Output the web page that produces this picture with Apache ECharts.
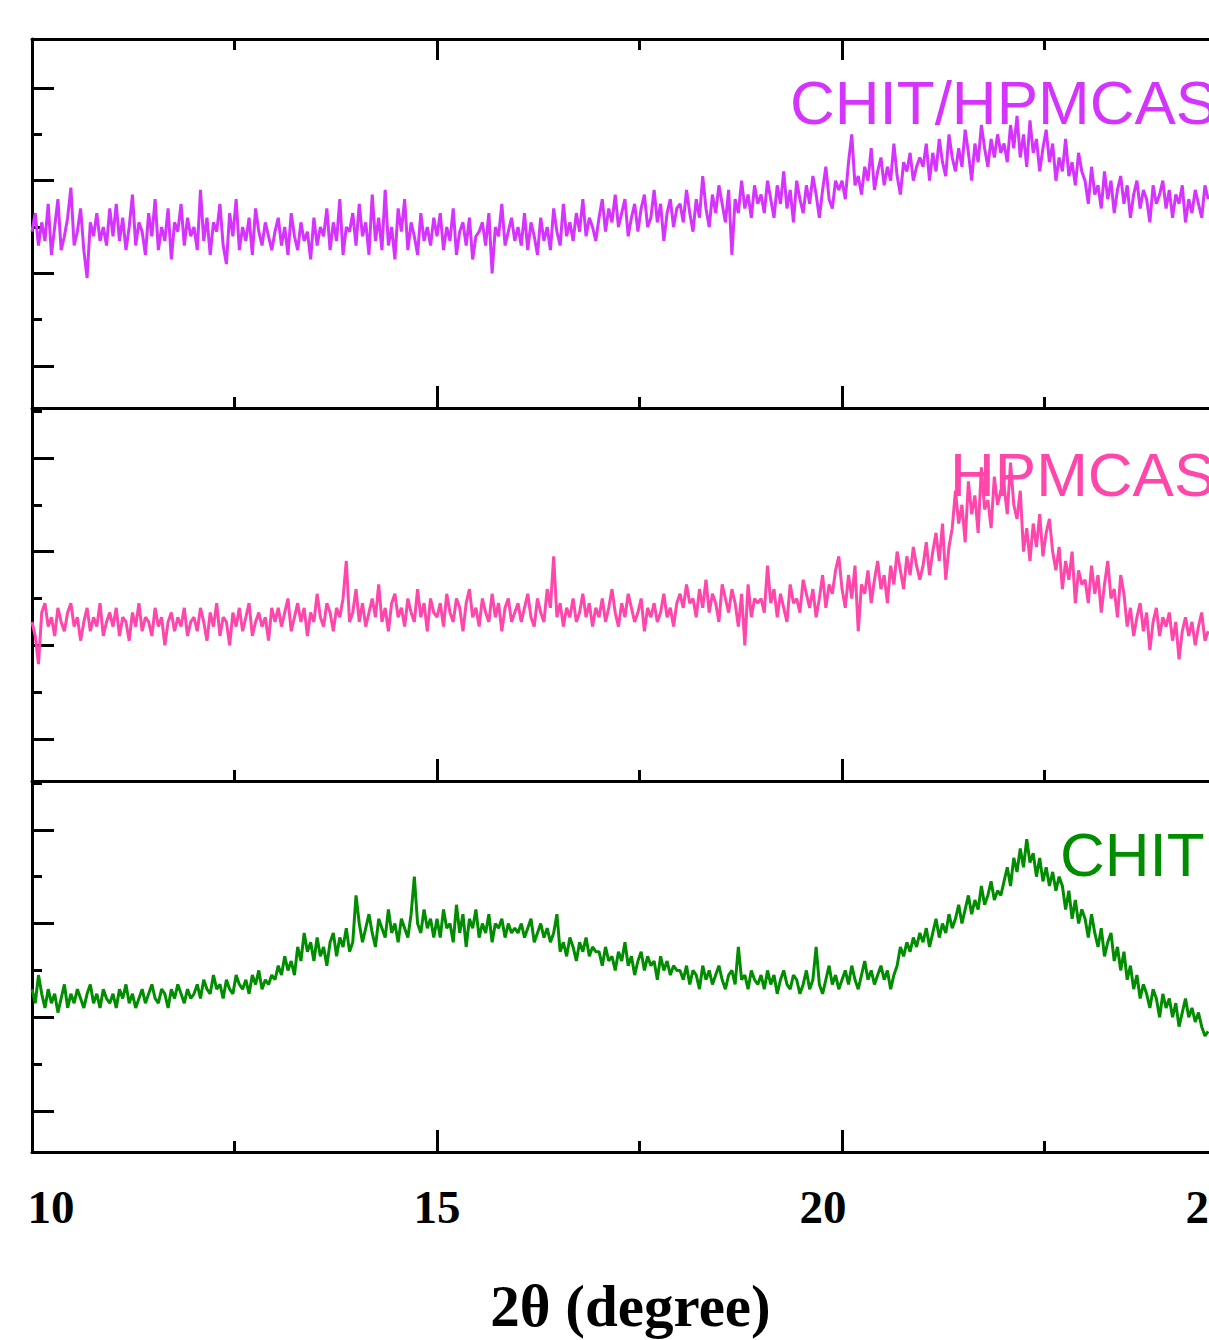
<!DOCTYPE html>
<html><head><meta charset="utf-8">
<script src="https://cdn.jsdelivr.net/npm/echarts@6/dist/echarts.min.js"></script>
<style>html,body{margin:0;padding:0;background:#fff}#c{width:1209px;height:1340px}</style>
</head><body><div id="c"></div><script>
// 2θ sampling of the diffractograms
const twoThetaStart = 10;
const twoThetaStep = 0.04;
const xTickLabels = [10, 15, 20, 25];
const xMajorTicks = [15, 20];
const xMinorTicks = [12.5, 17.5, 22.5];
const yMajorTicks = [1, 3, 5, 7];
const yMinorTicks = [2, 4, 6, 8];
const seriesNames = ['CHIT/HPMCAS', 'HPMCAS', 'CHIT'];
const axisTitle = '2θ (degree)';

// intensities (a.u.), one row per degree (25 points of 0.04°)
const chitHpmcas = [
3.9,4.3,3.6,4.1,3.7,4.5,3.4,4.0,4.6,3.5,3.8,4.2,4.85,3.6,3.9,4.4,3.5,2.9,4.1,3.8,4.3,3.7,4.0,3.6,4.4,
3.8,4.5,3.7,4.2,3.5,4.0,4.7,3.6,4.1,3.9,3.4,4.3,3.8,4.6,3.5,4.0,3.7,4.4,3.3,4.1,3.9,4.5,3.6,4.2,3.8,
4.0,3.5,4.8,3.7,4.2,3.4,4.1,3.9,4.5,3.6,3.2,4.3,3.8,4.6,3.5,4.0,3.7,4.2,3.4,4.4,3.9,3.6,4.1,3.8,3.5,
3.9,4.2,3.6,4.0,3.4,4.3,3.8,3.5,4.1,3.7,3.9,3.3,4.2,3.6,4.0,3.8,4.4,3.5,4.1,3.7,4.6,3.4,4.0,3.9,4.3,
3.6,4.5,3.8,4.1,3.4,4.7,3.7,4.2,3.5,4.8,3.6,4.0,3.3,4.4,3.9,4.6,3.5,4.1,3.8,3.4,4.3,3.7,4.0,3.6,4.2,
3.8,4.3,3.5,4.0,3.7,4.4,3.4,3.9,4.1,3.6,4.2,3.3,3.8,3.9,4.1,3.6,4.3,3.0,4.0,3.8,4.5,3.6,3.9,4.2,3.7,
4.0,3.6,4.3,3.5,4.1,3.8,3.4,4.2,3.7,4.0,3.5,4.4,3.9,3.6,4.5,3.8,4.1,3.7,4.3,3.9,4.6,3.8,4.2,4.0,3.7,
4.2,4.6,3.9,4.4,4.1,4.7,4.0,4.3,4.6,3.8,4.2,4.5,3.9,4.4,4.7,4.0,4.2,4.8,4.1,4.5,3.7,4.3,4.6,4.0,4.4,
4.5,4.1,4.8,4.3,3.9,4.6,4.2,5.1,4.4,4.0,4.7,4.3,4.9,4.5,4.1,4.8,3.4,4.6,4.3,5.0,4.4,4.7,4.2,4.9,4.5,
4.7,4.3,5.0,4.6,4.2,4.9,4.5,5.2,4.4,4.8,4.1,5.0,4.6,4.3,4.9,4.5,5.1,4.7,4.2,4.8,5.3,4.6,4.4,5.0,4.8,
5.0,4.6,5.4,6.0,4.9,5.1,4.7,5.3,5.0,5.7,4.8,5.2,5.5,4.9,5.3,5.0,5.8,5.1,4.7,5.4,5.2,5.6,5.0,5.3,5.5,
5.3,5.8,5.0,5.6,5.2,5.9,5.4,5.1,6.0,5.5,5.2,5.7,5.3,6.1,5.6,5.0,5.8,5.4,6.2,5.7,5.3,5.9,5.5,6.0,5.6,
5.8,5.4,6.2,5.7,6.4,5.5,6.0,5.3,6.3,5.6,5.9,5.2,5.7,6.1,5.4,5.8,5.0,5.5,5.2,5.9,5.1,5.4,4.9,5.6,5.2,
5.0,4.5,5.3,4.7,4.9,4.4,5.2,4.6,5.0,4.3,4.8,5.1,4.5,4.9,4.2,4.7,5.0,4.4,4.8,4.6,4.1,4.9,4.5,4.7,5.0,
4.4,4.8,4.2,4.7,4.5,4.9,4.1,4.6,4.3,4.8,4.5,4.2,4.9,4.6
];
const hpmcas = [
3.5,3.2,2.6,3.7,3.9,3.4,3.6,3.2,3.8,3.5,3.3,3.7,3.9,3.4,3.6,3.1,3.5,3.8,3.3,3.6,3.4,3.9,3.2,3.5,3.7,
3.4,3.8,3.2,3.6,3.5,3.1,3.7,3.4,3.9,3.3,3.6,3.5,3.2,3.8,3.4,3.6,3.0,3.5,3.7,3.3,3.6,3.4,3.8,3.2,3.5,
3.6,3.3,3.8,3.5,3.1,3.7,3.4,3.9,3.2,3.6,3.5,3.0,3.7,3.4,3.8,3.3,3.6,3.9,3.2,3.5,3.7,3.4,3.6,3.1,3.8,
3.5,3.8,3.4,3.7,4.0,3.3,3.6,3.9,3.5,3.8,3.2,3.7,3.5,4.1,3.6,3.4,3.9,3.7,3.3,3.8,3.6,4.0,4.8,3.5,3.7,
4.2,3.5,3.9,3.4,3.7,4.0,3.6,4.3,3.5,3.8,3.3,3.9,4.1,3.6,3.8,3.4,4.0,3.7,3.5,4.2,3.6,3.9,3.3,4.0,3.7,
3.6,3.9,3.4,4.1,3.7,3.5,4.0,3.8,3.3,3.9,4.2,3.6,3.8,3.4,4.0,3.7,3.5,4.1,3.6,3.9,3.3,3.8,4.0,3.5,3.7,
3.9,3.5,3.8,4.1,3.6,3.4,4.0,3.7,3.5,4.2,3.8,4.9,3.6,3.9,3.4,3.8,3.6,4.0,3.5,3.7,4.1,3.6,3.9,3.4,3.8,
3.6,4.0,3.5,3.8,4.2,3.7,3.4,3.9,3.6,4.1,3.8,3.5,3.7,4.0,3.3,3.8,3.6,3.9,3.5,3.7,4.1,3.6,3.8,3.4,3.9,
4.1,3.8,4.3,3.9,4.0,3.6,4.2,3.8,4.4,3.7,4.1,3.9,3.5,4.3,4.0,3.7,4.2,3.9,3.4,4.1,3.0,4.3,3.6,4.0,3.9,
4.0,3.7,4.7,3.9,4.2,3.6,4.1,3.8,3.5,4.3,3.9,4.0,3.7,4.4,4.1,3.8,4.2,3.6,4.0,4.5,3.8,4.3,4.1,4.6,4.9,
4.2,3.8,4.5,4.0,4.7,3.3,4.3,4.1,4.6,3.9,4.4,4.8,4.2,4.5,3.9,4.7,4.3,5.0,4.6,4.2,4.9,4.5,5.1,4.7,4.4,
4.7,5.2,4.5,5.0,5.4,4.8,5.6,4.4,5.1,5.5,6.3,5.6,6.0,5.2,6.5,5.8,6.2,5.4,6.8,5.9,6.1,5.5,6.6,6.0,6.3,
6.4,5.8,6.9,6.0,5.7,6.3,5.0,5.5,4.8,5.6,5.1,5.8,4.9,5.4,5.7,5.0,4.6,5.1,4.2,4.8,4.4,5.0,3.9,4.6,4.3,
4.4,3.9,4.7,4.1,4.5,3.7,4.3,4.8,4.0,4.2,3.6,4.5,4.1,3.4,3.8,3.2,3.6,3.9,3.3,3.7,2.9,3.5,3.8,3.2,3.6,
3.4,3.7,3.1,3.5,2.7,3.3,3.6,3.2,3.5,3.0,3.4,3.7,3.1,3.3
];
const chit = [
3.6,3.3,3.9,3.5,3.2,3.6,3.3,3.5,3.1,3.4,3.7,3.2,3.5,3.3,3.6,3.4,3.2,3.5,3.7,3.3,3.5,3.2,3.6,3.4,3.3,
3.5,3.2,3.6,3.4,3.7,3.3,3.5,3.2,3.4,3.6,3.3,3.5,3.7,3.4,3.3,3.6,3.5,3.2,3.6,3.4,3.7,3.5,3.3,3.6,3.4,
3.5,3.7,3.4,3.8,3.6,3.5,3.9,3.6,3.7,3.4,3.8,3.6,3.5,3.9,3.7,3.6,3.8,3.5,3.9,3.7,4.0,3.6,3.8,3.7,3.9,
3.8,4.1,3.9,4.3,4.0,4.2,3.9,4.5,4.2,4.8,4.4,4.6,4.2,4.7,4.3,4.5,4.1,4.6,4.8,4.3,4.7,4.5,4.9,4.4,4.6,
5.6,5.0,4.6,4.9,5.2,4.8,4.5,5.1,4.9,4.7,5.3,4.8,5.0,4.6,5.1,4.9,4.7,5.2,6.0,5.0,4.8,5.3,4.9,5.1,4.7,
5.1,4.7,5.3,4.9,5.0,4.6,5.4,4.8,5.2,4.5,5.1,4.9,5.3,4.7,5.0,4.8,5.2,4.6,5.0,4.9,5.1,4.7,5.0,4.8,4.9,
4.8,5.0,4.7,4.9,5.1,4.6,4.8,5.0,4.7,4.9,4.6,4.8,5.2,4.4,4.6,4.3,4.7,4.5,4.2,4.6,4.4,4.7,4.3,4.5,4.4,
4.4,4.1,4.5,4.2,4.3,4.0,4.4,4.2,4.6,4.1,4.3,3.9,4.2,4.4,4.0,4.3,4.1,4.2,3.8,4.3,4.0,4.2,3.9,4.1,4.0,
4.0,3.8,4.1,3.7,4.0,3.9,3.6,4.1,3.8,4.0,3.7,3.9,4.1,3.8,3.6,3.9,4.0,3.7,4.5,3.8,3.9,3.6,4.0,3.8,3.7,
3.9,3.6,4.0,3.7,3.9,3.5,3.8,4.0,3.7,3.6,3.9,3.8,3.5,3.7,4.0,3.6,3.8,4.5,3.7,3.5,3.8,4.1,3.7,3.9,3.6,
3.8,4.0,3.7,4.1,3.8,3.6,3.9,4.2,3.8,4.0,3.7,3.9,4.1,3.8,4.0,3.6,3.9,4.1,4.5,4.3,4.6,4.4,4.7,4.5,4.8,
4.6,4.9,4.5,4.8,5.1,4.7,5.0,4.8,5.2,4.9,5.1,5.4,5.0,5.3,5.6,5.2,5.5,5.3,5.8,5.4,5.6,5.9,5.5,5.7,5.6,
5.9,6.2,5.8,6.4,6.1,6.6,6.2,6.8,6.3,6.5,6.0,6.4,5.9,6.2,5.8,6.1,5.7,6.0,5.8,5.3,5.7,5.1,5.5,5.0,5.3,
5.1,4.7,5.2,4.8,4.5,4.9,4.3,4.6,4.8,4.2,4.5,4.0,4.4,3.8,4.1,3.6,3.9,3.4,3.7,3.5,3.2,3.6,3.4,3.0,3.5,
3.2,3.4,3.0,3.3,2.8,3.1,3.4,3.0,3.2,2.9,3.1,2.8,2.6,2.7
];

const seriesValues = [chitHpmcas, hpmcas, chit];
const seriesColors = ['#D533FF', '#FF46AA', '#008E00'];

// layout (pixels / axis extents), not data
const panels = [
  { top: 39,  height: 369, ymin: 0.093, ymax: 8.058, minor: [2, 4, 6], labelX: 790,  labelY: 102.5 },
  { top: 408, height: 373, ymin: 0.105, ymax: 8.065, minor: yMinorTicks, labelX: 950,  labelY: 474.5 },
  { top: 781, height: 371, ymin: 0.126, ymax: 8.04,  minor: yMinorTicks, labelX: 1060, labelY: 854.5 }
];
const X_MIN = 10, X_MAX = 24.53;
const black = '#000';
const tickStyle = { color: black, width: 3 };

const grid = [], xAxis = [], yAxis = [], series = [], graphic = [];

panels.forEach((p, g) => {
  grid.push({ left: 32, right: 0, top: p.top, height: p.height, containLabel: false, outerBoundsMode: 'none' });
  const baseX = { gridIndex: g, type: 'value', min: X_MIN, max: X_MAX, splitLine: { show: false }, axisLabel: { show: false } };
  const mainXIndex = xAxis.length;
  xAxis.push(Object.assign({}, baseX, {
    position: 'bottom',
    axisLine: { show: true, lineStyle: { color: black, width: 3 } },
    axisTick: { show: true, inside: true, length: 22, customValues: xMajorTicks, lineStyle: tickStyle }
  }));
  xAxis.push(Object.assign({}, baseX, {
    position: 'bottom',
    axisLine: { show: false },
    axisTick: { show: true, inside: true, length: 11, customValues: xMinorTicks, lineStyle: tickStyle }
  }));
  if (g === 0) {
    xAxis.push(Object.assign({}, baseX, {
      position: 'top',
      axisLine: { show: true, lineStyle: { color: black, width: 3 } },
      axisTick: { show: true, inside: true, length: 21, customValues: xMajorTicks, lineStyle: tickStyle }
    }));
    xAxis.push(Object.assign({}, baseX, {
      position: 'top',
      axisLine: { show: false },
      axisTick: { show: true, inside: true, length: 11, customValues: xMinorTicks, lineStyle: tickStyle }
    }));
  }
  if (g === panels.length - 1) {
    xAxis.push({
      gridIndex: g, type: 'value', min: 9.754, max: 25, position: 'bottom',
      axisLine: { show: false }, axisTick: { show: false }, splitLine: { show: false },
      axisLabel: { show: true, customValues: xTickLabels, margin: 31,
        fontFamily: 'Liberation Serif', fontWeight: 'bold', fontSize: 47, color: black },
      name: axisTitle, nameLocation: 'middle', nameGap: 124,
      nameTextStyle: { fontFamily: 'Liberation Serif', fontWeight: 'bold', fontSize: 59, color: black, padding: [0, 0, 0, 20] }
    });
  }
  const mainYIndex = yAxis.length;
  yAxis.push({
    gridIndex: g, type: 'value', min: p.ymin, max: p.ymax, position: 'left',
    axisLine: { show: true, lineStyle: { color: black, width: 3 } },
    axisTick: { show: true, inside: true, length: 22, customValues: yMajorTicks, lineStyle: tickStyle },
    axisLabel: { show: false }, splitLine: { show: false }
  });
  yAxis.push({
    gridIndex: g, type: 'value', min: p.ymin, max: p.ymax, position: 'left', offset: 0,
    axisLine: { show: false },
    axisTick: { show: true, inside: true, length: 10, customValues: p.minor, lineStyle: tickStyle },
    axisLabel: { show: false }, splitLine: { show: false }
  });
  series.push({
    name: seriesNames[g], type: 'line', xAxisIndex: mainXIndex, yAxisIndex: mainYIndex,
    data: seriesValues[g].map((v, i) => [+(twoThetaStart + i * twoThetaStep).toFixed(2), v]),
    showSymbol: false, symbol: 'none', smooth: false, clip: true, z: 3,
    lineStyle: { color: seriesColors[g], width: 3 }
  });
  graphic.push({
    type: 'text', x: p.labelX, y: p.labelY, z: 1,
    style: { text: seriesNames[g], fill: seriesColors[g], fontSize: 62, fontFamily: 'Liberation Sans',
      align: 'left', verticalAlign: 'middle', textAlign: 'left', textVerticalAlign: 'middle' }
  });
});

const chart = echarts.init(document.getElementById('c'), null, { renderer: 'svg' });
chart.setOption({
  animation: false,
  backgroundColor: '#fff',
  grid, xAxis, yAxis, series, graphic
});
</script></body></html>
